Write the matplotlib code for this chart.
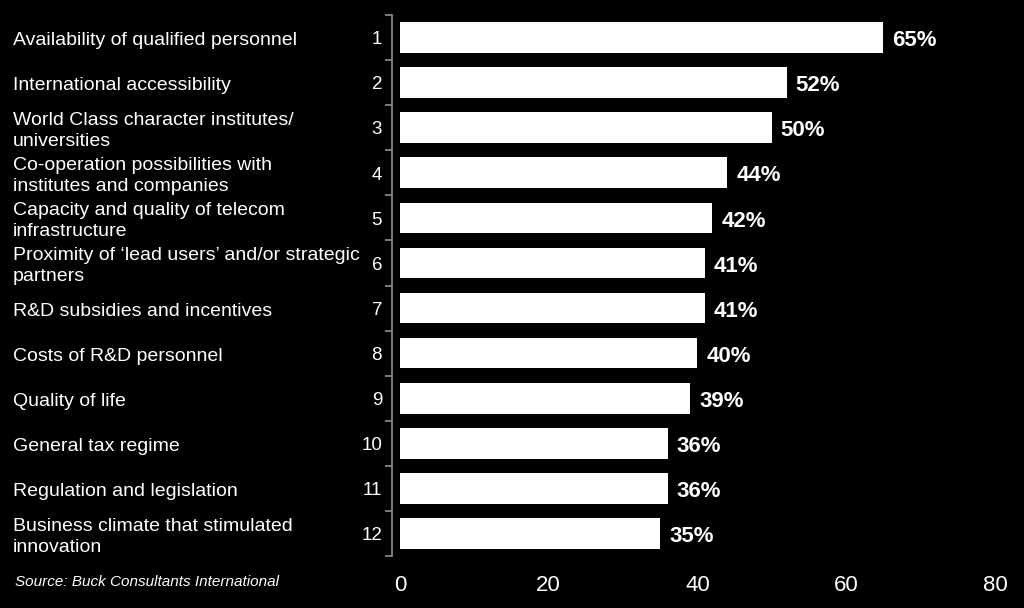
import matplotlib.pyplot as plt
from matplotlib.transforms import blended_transform_factory

plt.rcParams['font.family'] = ['Liberation Sans', 'DejaVu Sans']

factors = ['Availability of qualified personnel',
           'International accessibility',
           'World Class character institutes/\nuniversities',
           'Co-operation possibilities with\ninstitutes and companies',
           'Capacity and quality of telecom\ninfrastructure',
           'Proximity of \u2018lead users\u2019 and/or strategic\npartners',
           'R&D subsidies and incentives',
           'Costs of R&D personnel',
           'Quality of life',
           'General tax regime',
           'Regulation and legislation',
           'Business climate that stimulated\ninnovation']
ranks = [str(i) for i in range(1, 13)]
values = [65, 52, 50, 44, 42, 41, 41, 40, 39, 36, 36, 35]
xticks = [0, 20, 40, 60, 80]

fig = plt.figure(figsize=(10.24, 6.08), dpi=100, facecolor='black')
ax = fig.add_axes([0.3906, 0.0855, 0.5811, 0.8898])
ax.set_facecolor('black')

pos = list(range(len(values)))
ax.barh(pos, values, height=0.68, color='white')
ax.set_ylim(len(values) - 0.5, -0.5)
ax.set_xlim(0, 80)

# etykiety wartosci
for p, v in zip(pos, values):
    ax.text(v + 1.2, p + 0.07, f'{v}%', color='white', fontsize=16, fontweight='bold',
            va='center', ha='left')

# numery i nazwy czynnikow
ax.set_yticks([p + 0.5 for p in pos[:-1]] + [-0.5, len(values) - 0.5])
ax.set_yticklabels([])
lab_tr = blended_transform_factory(fig.transFigure, ax.transData)
for p, r, f in zip(pos, ranks, factors):
    ax.text(-2.4, p + 0.05, r, color='white', fontsize=13.5, va='center', ha='right')
    ax.text(13 / 1024, p + 0.07, f, color='white', fontsize=14, va='center', ha='left',
            linespacing=1.3, transform=lab_tr)

ax.set_xticks(xticks)
ax.set_xticklabels([str(t) for t in xticks], color='white', fontsize=16)
ax.tick_params(axis='x', length=0, pad=14)
ax.tick_params(axis='y', length=5, color='#909090', width=1.2)

for s in ['top', 'right', 'bottom']:
    ax.spines[s].set_visible(False)
ax.spines['left'].set_color('#909090')
ax.spines['left'].set_linewidth(1.2)
ax.spines['left'].set_position(('outward', 6))

fig.text(0.015, 0.042, 'Source: Buck Consultants International', color='white',
         fontsize=11, style='italic', ha='left', va='center')

fig.savefig('out.png', dpi=100, facecolor='black')
